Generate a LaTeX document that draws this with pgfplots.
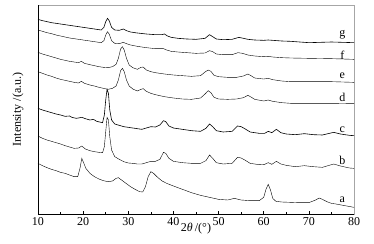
\documentclass[border=0pt]{standalone}
\usepackage{fontspec}
\setmainfont{Liberation Serif}
\usepackage{pgfplots}
\pgfplotsset{compat=1.18}
\begin{document}
\begin{tikzpicture}
\begin{axis}[
    scale only axis,
    width=316pt, height=209pt,
    xmin=10, xmax=80,
    ymin=15, ymax=642, y dir=reverse,
    xtick={10,20,...,80},
    minor x tick num=1,
    ytick=\empty,
    xtick pos=bottom,
    tick align=inside,
    major tick length=3pt, minor tick length=2pt,
    tick style={black, line width=0.5pt},
    axis line style={draw=gray!70, line width=0.6pt},
    font=\fontsize{12}{13}\selectfont,
    /pgf/number format/assume math mode=true,
    xlabel={2\textit{θ}\,/(°)},
    ylabel={Intensity /(a.u.)},
    every axis x label/.style={at={(axis description cs:0.5,0)}, anchor=center, yshift=-15pt},
    every axis y label/.style={at={(axis description cs:-0.063,0.5)}, anchor=center, rotate=90},
    clip=false,
    cycle list={{black, solid, line width=0.6pt, mark=none}},
]
% curve a
\addplot coordinates {
(10,490)(11,497)(12,503)(13,508)(14,512)(15,517)(16,520)(17,525)(18,530)(18.8,530)
(19.3,505)(19.7,475)(20.1,488)(20.6,505)(21.5,520)(22.5,530)(23.5,537)(24.5,542)
(25.5,545)(26.5,543)(27.3,535)(27.8,533)(28.5,540)(29.5,550)(30.5,560)(31.5,568)
(32.5,575)(33.2,576)(33.8,560)(34.4,530)(35.0,515)(35.6,520)(36.5,532)(37.5,543)
(38.5,550)(40,558)(42,568)(44,578)(46,586)(48,592)(50,598)(52,600)(53.5,595)
(55,600)(57,602)(59,602)(60,592)(60.5,568)(61,553)(61.5,570)(62,595)(62.7,604)
(64,606)(66,607)(68,608)(70,608)(71.5,600)(72.3,594)(73,598)(74,605)(75,610)
(76,612)(78,617)(80,622)};
% curve b
\addplot coordinates {
(10,408)(11,415)(12,420)(13,424)(14,428)(15,432)(16,437)(17,441)(18,445)(19,444)
(19.7,438)(20.5,447)(21.5,452)(22.5,455)(23.5,457)(24.3,458)(24.7,440)(25.0,395)
(25.3,352)(25.6,360)(25.9,410)(26.3,450)(27,470)(28,478)(29,485)(30,489)(31,490)
(32,492)(33,492)(34,488)(35,484)(36,484)(37,478)(37.8,457)(38.3,460)(39,475)
(40,484)(42,488)(44,490)(46,490)(47.2,482)(48,465)(48.7,475)(49.5,488)(51,492)
(53,490)(54.2,472)(55,474)(55.8,480)(57,490)(59,494)(60.2,493)(61,488)(61.8,493)
(62.8,484)(63.8,492)(65,496)(67,500)(69,497)(71,500)(73,502)(75.5,492)(77,498)
(79,504)(80,505)};
% curve c
\addplot coordinates {
(10,325)(11,330)(12,334)(13,338)(14,342)(15,345)(16,349)(17,348)(17.5,352)(18.5,355)
(19.7,352)(20.5,356)(21.5,360)(22.3,358)(23,364)(24.3,368)(24.7,345)(25.0,300)
(25.3,268)(25.6,280)(25.9,330)(26.3,360)(27,372)(28,376)(29,380)(30,382)(31,384)
(32,386)(33,388)(34,384)(35,380)(36,381)(37,375)(37.8,362)(38.3,365)(39,378)
(40,384)(42,388)(44,392)(46,394)(47.2,385)(48,372)(48.7,380)(49.5,392)(51,396)
(53,394)(54.2,378)(55,380)(55.8,386)(57,396)(59,400)(60.2,400)(61,394)(61.8,398)
(62.8,388)(63.8,398)(65,402)(67,404)(69,401)(71,404)(73,405)(75.5,397)(77,402)
(79,406)(80,407)};
% curve d
\addplot coordinates {
(10,215)(11,220)(12,225)(13,229)(14,234)(15,238)(16,241)(17,244)(18,247)(19,249)
(19.6,244)(20.3,250)(21.5,255)(22.5,258)(23.5,262)(24.5,265)(25.5,268)(26.5,265)
(27.3,258)(27.8,240)(28.3,212)(28.7,205)(29.1,215)(29.6,240)(30.2,258)(31,267)
(32,273)(32.8,268)(33.3,266)(34,274)(35,280)(36,284)(38,290)(40,294)(42,297)
(44,298)(46,294)(47,282)(47.7,272)(48.3,278)(49,292)(50,297)(52,298)(54,297)
(55.5,293)(56.5,286)(57.3,292)(58,298)(60,303)(61,300)(62,304)(64,308)(66,310)
(70,310)(75,310)(80,311)};
% curve e
\addplot coordinates {
(10,157)(11,162)(12,166)(13,170)(14,174)(15,178)(16,181)(17,184)(18,186)(19,188)
(19.6,184)(20.3,190)(21.5,194)(22.5,197)(23.5,200)(24.5,202)(25.5,203)(26.5,200)
(27.3,193)(27.8,175)(28.3,147)(28.7,140)(29.1,150)(29.6,175)(30.2,195)(31,203)
(32,208)(32.8,202)(33.3,201)(34,210)(35,215)(36,218)(38,222)(40,225)(42,227)
(44,229)(46,227)(47,216)(47.7,210)(48.3,214)(49,226)(50,230)(52,232)(54,232)
(55.5,228)(56.5,222)(57.3,228)(58,234)(60,237)(61,235)(62,239)(64,243)(66,245)
(70,245)(75,245)(80,247)};
% curve f
\addplot coordinates {
(10,90)(11,94)(12,98)(13,101)(14,105)(15,108)(16,111)(17,114)(18,116)(19,118)
(20,120)(21,122)(22,124)(23,126)(24,128)(24.6,122)(25.0,105)(25.4,95)(25.8,103)
(26.3,122)(27,130)(28,131)(28.9,127)(29.6,131)(30.5,135)(32,139)(34,143)(36,146)
(37.8,146)(38.5,150)(39.5,154)(41,156)(43,158)(45,160)(47,159)(48,152)(48.7,155)
(49.5,162)(51,164)(53,164)(54.3,158)(55.3,160)(56.5,165)(58,168)(60,170)(61,169)
(62,171)(64,173)(66,174)(70,175)(75,176)(80,178)};
% curve g
\addplot coordinates {
(10,58)(11,62)(12,65)(13,68)(14,70)(15,72)(16,74)(17,76)(18,78)(19,80)(20,82)
(21,84)(22,86)(23,88)(24,90)(24.6,82)(25.0,65)(25.4,55)(25.8,63)(26.3,82)(27,90)
(28,91)(28.9,87)(29.6,92)(30.5,96)(32,99)(34,102)(36,104)(37.4,104)(38,102)
(38.7,108)(39.5,112)(41,115)(43,117)(45,118)(47,115)(48,104)(48.7,110)(49.5,117)
(51,119)(53,118)(54.5,112)(55.5,115)(56.5,118)(58,120)(60,121)(61,120)(62,121)
(64,123)(66,124)(70,128)(75,126)(80,128)};
% curve labels
\node at (axis cs:77.4,103) {g};
\node at (axis cs:77.4,165) {f};
\node at (axis cs:77.4,228) {e};
\node at (axis cs:77.4,292) {d};
\node at (axis cs:77.4,390) {c};
\node at (axis cs:77.4,482) {b};
\node at (axis cs:77.4,598) {a};
% black left and bottom frame
\draw[black, line width=0.6pt] (rel axis cs:0,1) -- (rel axis cs:0,0) -- (rel axis cs:1,0);
% page margins
\path (rel axis cs:0,0) ++(-38pt,-29pt);
\path (rel axis cs:1,1) ++(20pt,5pt);
\end{axis}
\end{tikzpicture}
\end{document}
